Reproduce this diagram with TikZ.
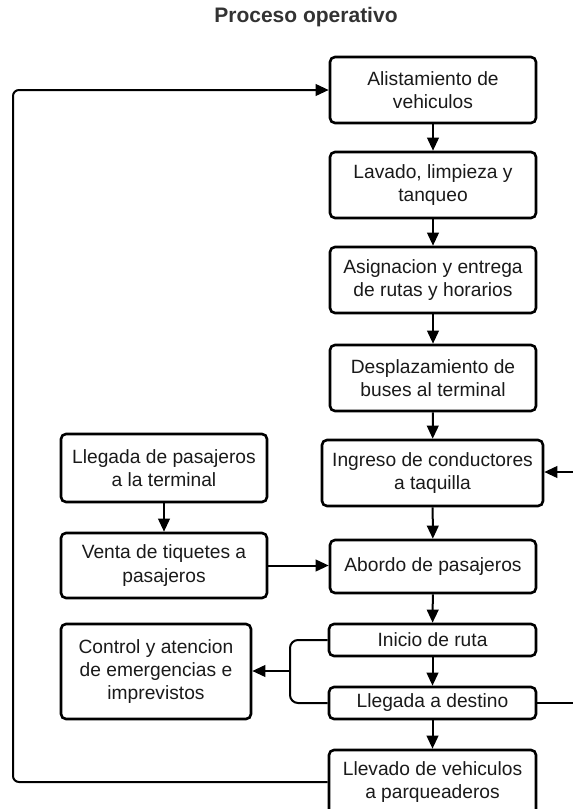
\documentclass[tikz,border=0pt]{standalone}
\usepackage{fontspec}
\setmainfont{Liberation Sans}
\usetikzlibrary{arrows.meta}
\definecolor{titlegray}{HTML}{333333}
\definecolor{txt}{HTML}{1A1A1A}
\begin{document}
\begin{tikzpicture}[x=0.5pt,y=-0.5pt,
  box/.style={draw=black, line width=1.3pt, rounded corners=2.5pt, fill=white, align=center, inner sep=0pt, text=txt, font=\fontsize{9.6}{11.7}\selectfont},
  conn/.style={line width=1pt, -{Triangle[length=6.5pt,width=5.8pt]}},
  plainline/.style={line width=1pt}]
\clip (0,0) rectangle (573,809);
\fill[white] (0,0) rectangle (573,809);
\node[font=\bfseries\fontsize{10.5}{12}\selectfont, text=titlegray] (title) at (306,17) {Proceso operativo};
\node[box, minimum width=103pt, minimum height=33pt] (b1) at (433,90) {Alistamiento de\\vehiculos};
\node[box, minimum width=103pt, minimum height=33pt] (b2) at (433,185) {Lavado, limpieza y\\tanqueo};
\node[box, minimum width=103pt, minimum height=33pt] (b3) at (433,280) {Asignacion y entrega\\de rutas y horarios};
\node[box, minimum width=103pt, minimum height=33pt] (b4) at (433,378) {Desplazamiento de\\buses al terminal};
\node[box, minimum width=110.5pt, minimum height=33pt] (b5) at (432.5,473) {Ingreso de conductores\\a taquilla};
\node[box, minimum width=103pt, minimum height=26.5pt] (b6) at (433,566.5) {Abordo de pasajeros};
\node[box, minimum width=103.5pt, minimum height=16pt] (b7) at (432.5,640) {Inicio de ruta};
\node[box, minimum width=103.5pt, minimum height=16pt] (b8) at (432.5,703) {Llegada a destino};
\node[box, minimum width=103.5pt, minimum height=32pt] (b9) at (432.5,782) {Llevado de vehiculos\\a parqueaderos};
\node[box, minimum width=103pt, minimum height=34pt] (l1) at (164,468) {Llegada de pasajeros\\a la terminal};
\node[box, minimum width=103pt, minimum height=32.5pt] (l2) at (164,565.5) {Venta de tiquetes a\\pasajeros};
\node[box, minimum width=95pt, minimum height=47.5pt] (ctrl) at (156,671.5) {Control y atencion\\de emergencias e\\imprevistos};
% vertical chain
\draw[conn] (b1) -- (b2);
\draw[conn] (b2) -- (b3);
\draw[conn] (b3) -- (b4);
\draw[conn] (b4) -- (b5);
\draw[conn] (b5) -- (b6);
\draw[conn] (b6) -- (b7);
\draw[conn] (b7) -- (b8);
\draw[conn] (b8) -- (b9);
\draw[conn] (l1) -- (l2);
\draw[conn] (l2.east) -- (l2.east -| b6.west);
% right edge connectors
\coordinate (rin) at (573,472);
\draw[conn] (rin) -- (rin -| b5.east);
\coordinate (rout) at (573,703);
\draw[plainline] (b8.east) -- (rout);
% fork to control
\coordinate (fk) at (290,671);
\draw[plainline, rounded corners=4pt] (b7.west) -| (fk) |- (b8.west);
\draw[conn] (fk) -- (fk -| ctrl.east);
% loop back
\coordinate (lp) at (13,0);
\draw[conn, rounded corners=3pt] (b9.west) -- (b9.west -| lp) |- (b1.west);
\end{tikzpicture}
\end{document}
